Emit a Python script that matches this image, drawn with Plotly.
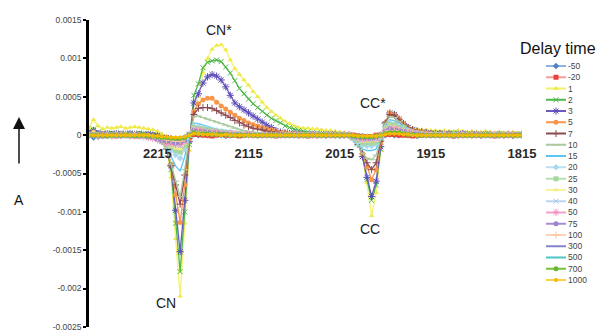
import plotly.graph_objects as go

# ---------------- data (absorbance in units of 1e-5) ----------------
wavenumber = list(range(2290, 1814, -5))          # cm-1 grid, 96 points
delay_labels = ["-50", "-20", "1", "2", "3", "5", "7", "10", "15", "20",
                "25", "30", "40", "50", "75", "100", "300", "500", "700", "1000"]
x_tick_vals = [2215, 2115, 2015, 1915, 1815]
x_tick_text = ["2215", "2115", "2015", "1915", "1815"]
y_tick_vals = [0.0015, 0.001, 0.0005, 0, -0.0005, -0.001, -0.0015, -0.002, -0.0025]
y_tick_text = ["0.0015", "0.001", "0.0005", "0", "-0.0005", "-0.001", "-0.0015", "-0.002", "-0.0025"]

d_m50 = [1, -3, -2, -1, 0, -1, 0, 1, 0, -1, 0, 1, 0, -1, 0, -1, -2,
         -3, -4, -5, -5, -3, 0,
         1, 0, 1, 0, 0, 1, 0, -1, 0, 1, 0, 0, 1, 0, -1, 0, 0, 1, 0, 0,
         1, 0, 0, -1, 0, 1, 0, 0, 0, 1, 0, 0, -1, 0, 0,
         0, -1, -1, -2, -2, -1, 1,
         0, 1, 0, 0, 1, 0, 0, -1, 0, 0, 1,
         0, 0, 1, 0, -1, 0, 0, 1, 0, 0, -1, 0, 0, 1, 0, 0, 0, -1, 0, 1]
d_m20 = [0, 2, 1, 0, 1, 0, -1, 0, 1, 0, 0, -1, 0, 1, 0, -1, -2,
         -3, -5, -6, -6, -4, 0,
         1, 1, 0, 0, -1, 0, 1, 0, 0, 0, -1, 0, 1, 0, 0, 0, 1, 0, -1, 0,
         0, 0, 1, 0, 0, -1, 0, 0, 1, 0, 0, 0, 0, 1, 0,
         0, -1, -2, -2, -2, 0, 0,
         1, 1, 1, 0, 0, 0, -1, 0, 0, 1, 0,
         1, 0, 0, 0, -1, 0, 1, 0, 0, 0, 0, 1, 0, -1, 0, 0, 1, 0, 0, 0]
d_1 = [10, 20, 12, 8, 10, 9, 10, 11, 9, 10, 11, 10, 9, 8, 7, 5, 2,
       -15, -55, -135, -210, -115, -20,
       28, 50, 82, 100, 112, 117, 118, 111, 98, 87, 79, 72, 65, 57, 50, 43, 36, 31, 26, 22,
       18, 15, 12, 10, 9, 9, 8, 8, 7, 6, 6, 5, 4, 3, 2,
       -2, -8, -25, -62, -105, -75, -20,
       12, 27, 25, 20, 15, 11, 9, 8, 7, 7, 6,
       6, 5, 6, 5, 5, 6, 5, 4, 5, 4, 4, 5, 4, 3, 4, 3, 3, 4, 3, 3]
d_2 = [5, 8, 4, 3, 2, 3, 2, 3, 2, 3, 2, 3, 2, 2, 1, 0, -3,
       -12, -45, -115, -178, -100, -12,
       52, 67, 88, 95, 97, 98, 96, 89, 81, 71, 61, 54, 47, 41, 36, 31, 26, 22, 19, 16,
       12, 10, 8, 6, 5, 4, 3, 3, 2, 2, 2, 1, 1, 1, 0,
       -3, -10, -28, -58, -85, -65, -18,
       14, 28, 26, 20, 14, 10, 7, 5, 4, 3, 3,
       2, 3, 2, 2, 3, 2, 2, 1, 2, 2, 1, 2, 1, 1, 2, 1, 1, 1, 1, 1]
d_3 = [3, 6, 2, 1, 2, 1, 2, 1, 1, 2, 1, 1, 0, 1, 0, -1, -4,
       -12, -40, -98, -152, -85, -8,
       42, 54, 68, 76, 79, 77, 72, 63, 52, 42, 37, 33, 29, 25, 21, 17, 13, 10, 6, 4,
       3, 2, 2, 1, 1, 1, 1, 0, 1, 0, 0, 1, 0, 0, 0,
       -3, -10, -28, -55, -80, -60, -15,
       15, 29, 27, 21, 15, 10, 7, 5, 4, 3, 2,
       2, 2, 1, 2, 1, 1, 2, 1, 1, 1, 0, 1, 1, 0, 1, 0, 1, 0, 0, 1]
d_5 = [2, 4, 1, 0, 1, 0, 1, 0, 1, 0, 0, 1, 0, 0, -1, -2, -6,
       -15, -38, -78, -114, -65, -5,
       31, 41, 46, 48, 48, 43, 38, 34, 30, 26, 22, 19, 16, 14, 12, 10, 8, 7, 5, 4,
       3, 2, 2, 1, 1, 1, 0, 1, 0, 0, 0, 0, 0, 0, 0,
       -4, -10, -24, -42, -58, -45, -10,
       16, 29, 27, 21, 15, 10, 7, 5, 4, 3, 2,
       2, 1, 2, 1, 1, 1, 0, 1, 1, 0, 1, 0, 0, 1, 0, 0, 1, 0, 0, 0]
d_7 = [2, 3, 1, 0, 0, 1, 0, 0, 1, 0, 0, 0, 0, -1, -1, -3, -8,
       -18, -40, -65, -90, -52, -4,
       27, 35, 36, 36, 35, 32, 29, 26, 23, 19, 16, 13, 11, 9, 8, 7, 5, 4, 4, 3,
       2, 2, 1, 1, 1, 0, 1, 0, 0, 0, 0, 0, 0, 0, 0,
       -5, -12, -24, -36, -45, -36, -8,
       16, 27, 26, 20, 14, 10, 7, 5, 4, 3, 2,
       1, 2, 1, 1, 1, 0, 1, 1, 0, 1, 0, 0, 1, 0, 0, 0, 1, 0, 0, 0]
d_10 = [1, 3, 0, 0, 1, 0, 0, 1, 0, 0, 0, 0, -1, -1, -2, -4, -9,
        -18, -38, -60, -80, -45, -3,
        24, 25, 23, 21, 19, 17, 15, 13, 11, 9, 7, 6, 5, 4, 3, 3, 2, 2, 1, 1,
        1, 0, 1, 0, 0, 0, 0, 0, 0, 0, 0, 0, 0, 0, 0,
        -6, -14, -24, -30, -32, -26, -6,
        15, 24, 23, 18, 13, 9, 6, 4, 3, 2, 2,
        1, 1, 1, 0, 1, 0, 1, 0, 0, 1, 0, 0, 0, 0, 1, 0, 0, 0, 0, 0]
d_15 = [0, 2, 0, -1, 0, 0, -1, 0, 0, 0, -1, 0, -1, -1, -2, -4, -8,
        -15, -28, -40, -47, -28, 0,
        16, 15, 13, 11, 9, 8, 7, 6, 5, 4, 3, 3, 2, 2, 1, 1, 1, 0, 1, 0,
        0, 0, 0, 0, 0, 0, 0, 0, 0, 0, 0, 0, 0, 0, 0,
        -6, -12, -18, -20, -20, -18, -4,
        12, 20, 19, 15, 11, 8, 5, 3, 2, 2, 1,
        1, 1, 0, 1, 0, 0, 1, 0, 0, 0, 0, 1, 0, 0, 0, 0, 0, 0, 0, 0]
d_20 = [0, 1, -1, 0, 0, -1, 0, 0, -1, 0, 0, -1, -1, -2, -3, -5, -8,
        -13, -20, -26, -30, -18, 0,
        12, 11, 10, 8, 7, 6, 5, 4, 4, 3, 2, 2, 1, 1, 1, 0, 1, 0, 0, 0,
        0, 0, 0, 0, 0, 0, 0, 0, 0, 0, 0, 0, 0, 0, 0,
        -5, -9, -13, -14, -14, -12, -2,
        10, 16, 15, 12, 9, 6, 4, 3, 2, 1, 1,
        1, 0, 1, 0, 0, 0, 1, 0, 0, 0, 0, 0, 0, 1, 0, 0, 0, 0, 0, 0]
d_25 = [0, 1, 0, -1, 0, 0, -1, 0, 0, -1, 0, -1, -1, -2, -3, -5, -8,
        -12, -16, -20, -22, -14, 1,
        10, 9, 8, 7, 6, 5, 4, 3, 3, 2, 2, 1, 1, 1, 0, 1, 0, 0, 0, 0,
        0, 0, 0, 0, 0, 0, 0, 0, 0, 0, 0, 0, 0, 0, 0,
        -4, -7, -10, -10, -10, -9, -1,
        9, 14, 13, 10, 8, 5, 4, 2, 2, 1, 1,
        0, 1, 0, 0, 1, 0, 0, 0, 0, 0, 1, 0, 0, 0, 0, 0, 0, 0, 0, 0]
d_30 = [1, 4, 1, 0, 1, 0, 0, 1, 0, 0, 0, -1, -1, -2, -3, -5, -7,
        -10, -14, -17, -18, -11, 1,
        9, 8, 7, 6, 5, 4, 4, 3, 2, 2, 1, 1, 1, 0, 1, 0, 0, 0, 0, 0,
        0, 0, 0, 0, 0, 0, 0, 0, 0, 0, 0, 0, 0, 0, 0,
        -3, -6, -8, -8, -8, -7, 0,
        8, 12, 11, 9, 7, 5, 3, 2, 1, 1, 1,
        1, 0, 0, 1, 0, 0, 0, 0, 1, 0, 0, 0, 0, 0, 0, 0, 1, 0, 0, 0]
d_40 = [0, 1, 0, 0, -1, 0, 0, 0, -1, 0, 0, -1, -1, -2, -3, -4, -6,
        -9, -11, -13, -14, -9, 1,
        8, 7, 6, 5, 4, 4, 3, 3, 2, 2, 1, 1, 1, 0, 0, 1, 0, 0, 0, 0,
        0, 0, 0, 0, 0, 0, 0, 0, 0, 0, 0, 0, 0, 0, 0,
        -3, -5, -6, -6, -6, -5, 0,
        7, 10, 9, 8, 6, 4, 3, 2, 1, 1, 0,
        0, 1, 0, 0, 0, 0, 1, 0, 0, 0, 0, 0, 0, 0, 1, 0, 0, 0, 0, 0]
d_50 = [0, 0, -1, 0, 0, -1, 0, 0, 0, -1, -1, -1, -2, -3, -4, -6, -8,
        -10, -11, -12, -12, -8, 1,
        7, 6, 5, 5, 4, 3, 3, 2, 2, 1, 1, 1, 0, 1, 0, 0, 0, 0, 0, 0,
        0, 0, 0, 0, 0, 0, 0, 0, 0, 0, 0, 0, 0, 0, 0,
        -2, -4, -5, -5, -5, -4, 0,
        6, 9, 8, 7, 5, 4, 3, 2, 1, 1, 0,
        0, 0, 1, 0, 0, 0, 0, 0, 1, 0, 0, 0, 0, 0, 0, 0, 0, 1, 0, 0]
d_75 = [0, 1, 0, -1, 0, 0, 0, -1, 0, 0, -1, -1, -1, -2, -3, -5, -7,
        -8, -9, -10, -10, -7, 1,
        6, 5, 5, 4, 3, 3, 2, 2, 1, 1, 1, 0, 1, 0, 0, 0, 0, 0, 0, 0,
        0, 0, 0, 0, 0, 0, 0, 0, 0, 0, 0, 0, 0, 0, 0,
        -2, -3, -4, -4, -4, -3, 0,
        5, 8, 7, 6, 5, 3, 2, 2, 1, 0, 0,
        0, 0, 0, 1, 0, 0, 0, 0, 0, 0, 1, 0, 0, 0, 0, 0, 0, 0, 1, 0]
d_100 = [0, 1, 0, 0, 0, -1, 0, 0, 0, -1, 0, -1, -1, -1, -2, -4, -5,
         -6, -7, -8, -8, -5, 1,
         5, 4, 4, 3, 3, 2, 2, 1, 1, 1, 0, 1, 0, 0, 0, 0, 0, 0, 0, 0,
         0, 0, 0, 0, 0, 0, 0, 0, 0, 0, 0, 0, 0, 0, 0,
         -1, -2, -3, -3, -3, -2, 0,
         4, 6, 6, 5, 4, 3, 2, 1, 1, 0, 0,
         0, 0, 0, 0, 1, 0, 0, 0, 0, 0, 0, 0, 1, 0, 0, 0, 0, 0, 0, 0]
d_300 = [0, 0, 0, -1, 0, 0, 0, 0, -1, 0, 0, 0, -1, -1, -2, -3, -4,
         -5, -6, -6, -6, -4, 1,
         4, 3, 3, 2, 2, 2, 1, 1, 1, 0, 1, 0, 0, 0, 0, 0, 0, 0, 0, 0,
         0, 0, 0, 0, 0, 0, 0, 0, 0, 0, 0, 0, 0, 0, 0,
         -1, -2, -3, -3, -3, -2, 0,
         3, 5, 5, 4, 3, 2, 1, 1, 0, 0, 0,
         0, 0, 0, 0, 0, 1, 0, 0, 0, 0, 0, 0, 0, 0, 0, 1, 0, 0, 0, 0]
d_500 = [0, 1, 0, 0, 0, 0, -1, 0, 0, 0, 0, -1, 0, -1, -1, -2, -3,
         -4, -5, -5, -5, -3, 1,
         3, 3, 2, 2, 2, 1, 1, 1, 0, 1, 0, 0, 0, 0, 0, 0, 0, 0, 0, 0,
         0, 0, 0, 0, 0, 0, 0, 0, 0, 0, 0, 0, 0, 0, 0,
         -1, -1, -2, -2, -2, -1, 0,
         3, 4, 4, 3, 2, 2, 1, 1, 0, 0, 0,
         0, 0, 0, 0, 0, 0, 0, 1, 0, 0, 0, 0, 0, 0, 0, 0, 0, 0, 0, 0]
d_700 = [0, 0, 0, 0, -1, 0, 0, 0, 0, 0, -1, 0, 0, -1, -1, -2, -3,
         -3, -4, -4, -4, -3, 0,
         3, 2, 2, 2, 1, 1, 1, 1, 0, 0, 0, 0, 0, 0, 0, 0, 0, 0, 0, 0,
         0, 0, 0, 0, 0, 0, 0, 0, 0, 0, 0, 0, 0, 0, 0,
         -1, -1, -2, -2, -2, -1, 0,
         2, 3, 3, 3, 2, 1, 1, 0, 0, 0, 0,
         0, 0, 0, 0, 0, 0, 0, 0, 0, 0, 0, 0, 0, 0, 0, 0, 0, 0, 0, 0]
d_1000 = [0, 0, 0, 0, 0, 0, 0, 0, 0, 0, 0, 0, 0, 0, -1, -1, -2,
          -2, -3, -3, -3, -2, 0,
          2, 2, 1, 1, 1, 1, 0, 1, 0, 0, 0, 0, 0, 0, 0, 0, 0, 0, 0, 0,
          0, 0, 0, 0, 0, 0, 0, 0, 0, 0, 0, 0, 0, 0, 0,
          0, -1, -1, -1, -1, -1, 0,
          1, 2, 2, 2, 1, 1, 0, 0, 0, 0, 0,
          0, 0, 0, 0, 0, 0, 0, 0, 0, 0, 0, 0, 0, 0, 0, 0, 0, 0, 0, 0]

series = [d_m50, d_m20, d_1, d_2, d_3, d_5, d_7, d_10, d_15, d_20,
          d_25, d_30, d_40, d_50, d_75, d_100, d_300, d_500, d_700, d_1000]
for s in series:
    assert len(s) == len(wavenumber), len(s)

UNIT = 1e-5

# ---------------- styles ----------------
line_colors = ["#8FB4E2", "#F4A098", "#F4F26A", "#4DB848", "#6A5BC4", "#F7964A",
               "#8C4B52", "#A9C99C", "#5BC6F2", "#B9E2F2", "#B6DFAF", "#F6F39C",
               "#BCD6F0", "#F3A3C9", "#A48ED2", "#FCD3B4", "#8585CC", "#4FC6C8",
               "#77C23A", "#FFD04A"]
marker_colors = ["#4F82C4", "#E8403A", "#EEEA4A", "#4DB848", "#5B4CB8", "#F7964A",
                 "#8C4B52", "#A9C99C", "#5BC6F2", "#A9D9EE", "#A6D79E", "#F3EE86",
                 "#A8C8EC", "#EF8FBE", "#9A82CC", "#FAC7A0", "#8585CC", "#4FC6C8",
                 "#66B830", "#F5B800"]
symbols = ["diamond", "square", "triangle-up", "x-thin-open", "asterisk-open", "circle",
           "cross-thin-open", "line-ew-open", None, "diamond", "square", "triangle-up",
           "x-thin-open", "asterisk-open", "circle", "cross-thin-open", None,
           "line-ew-open", "circle", "circle"]
sizes = [5, 5, 5, 5, 6, 5, 5, 5, 0, 5, 5, 5, 5, 6, 5, 5, 0, 5, 5, 4]

W, H = 597, 331
FONT = "Liberation Sans, Arial, sans-serif"

fig = go.Figure()

for lab, vals, lc, mc, sym, sz in zip(delay_labels, series, line_colors, marker_colors, symbols, sizes):
    open_sym = sym is not None and sym.endswith("-open")
    mk = dict(symbol=sym or "circle", size=sz, color=mc,
              line=dict(color=mc, width=1 if open_sym else 0))
    mode = "lines+markers" if sym else "lines"
    fig.add_trace(go.Scatter(
        x=wavenumber, y=[v * UNIT for v in vals], mode=mode,
        line=dict(color=lc, width=1.3), marker=mk, name=lab,
        showlegend=False, xaxis="x", yaxis="y"))
    # legend sample, drawn on its own small category axis
    mk2 = dict(mk)
    mk2["opacity"] = [0, 1, 0]
    fig.add_trace(go.Scatter(
        x=[0, 0.5, 1], y=[lab, lab, lab], mode=mode,
        line=dict(color=lc, width=2), marker=mk2,
        showlegend=False, hoverinfo="skip", xaxis="x2", yaxis="y2"))

# geometry in pixels -> paper
px_l, px_r = 89, 522
px_t, px_b = 20, 327
y_lo, y_hi = -0.0025, 0.0015
ydom = [1 - px_b / H, 1 - px_t / H]
zero_pos = ydom[0] + (0 - y_lo) / (y_hi - y_lo) * (ydom[1] - ydom[0])
pad = 0.000002

leg_top, leg_bot = 60.4, 285.6


def label(text, xpx, ypx, size=14, color="#222"):
    return dict(text=text, x=xpx / W, y=1 - ypx / H, xref="paper", yref="paper",
                xanchor="center", yanchor="middle", showarrow=False,
                font=dict(size=size, color=color))


fig.update_layout(
    width=W, height=H, autosize=False,
    margin=dict(l=0, r=0, t=0, b=0),
    paper_bgcolor="white", plot_bgcolor="rgba(0,0,0,0)",
    font=dict(family=FONT, color="#222"),
    xaxis=dict(domain=[px_l / W, px_r / W], range=[2290, 1815],
               tickvals=x_tick_vals, ticktext=x_tick_text,
               tickfont=dict(size=13, color="#2a2a2a", weight="bold", family=FONT),
               showline=False, layer="above traces",
               anchor="free", position=zero_pos,
               ticks="outside", ticklen=6, tickcolor="rgba(0,0,0,0)",
               showgrid=False, zeroline=False, automargin=False),
    yaxis=dict(domain=ydom, range=[y_lo - pad, y_hi + pad],
               tickvals=y_tick_vals, ticktext=y_tick_text,
               tickfont=dict(size=8.5, color="#444", family=FONT),
               ticklabeloverflow="allow",
               showline=True, linecolor="black", linewidth=2.5,
               ticks="outside", ticklen=3, tickwidth=1.5, tickcolor="black",
               anchor="x", showgrid=False, zeroline=False, automargin=False),
    xaxis2=dict(domain=[545 / W, 567 / W], range=[-0.05, 1.05], visible=False,
                anchor="y2", fixedrange=True),
    yaxis2=dict(domain=[1 - leg_bot / H, 1 - leg_top / H], type="category",
                categoryorder="array", categoryarray=delay_labels,
                range=[len(delay_labels) - 0.5, -0.5],
                side="right", anchor="x2", showline=False, ticks="",
                tickfont=dict(size=8.5, color="#444", family=FONT),
                showgrid=False, zeroline=False, automargin=False),
    annotations=[
        label("CN*", 219, 30),
        label("CN", 166, 303),
        label("CC*", 373, 103),
        label("CC", 370, 229),
        label("A", 19, 200, color="#111"),
        label("Delay time", 558, 48, size=16, color="#111"),
        dict(text="", x=19 / W, y=1 - 117 / H, xref="paper", yref="paper",
             showarrow=True, ax=0, ay=48, axref="pixel", ayref="pixel",
             arrowhead=2, arrowsize=1.6, arrowwidth=1.5, arrowcolor="#111"),
    ],
)

fig.write_html("out.html", config={"displayModeBar": False},
               post_script="document.body.style.margin='0';document.body.style.padding='0';"
                           "document.documentElement.style.overflow='hidden';")
